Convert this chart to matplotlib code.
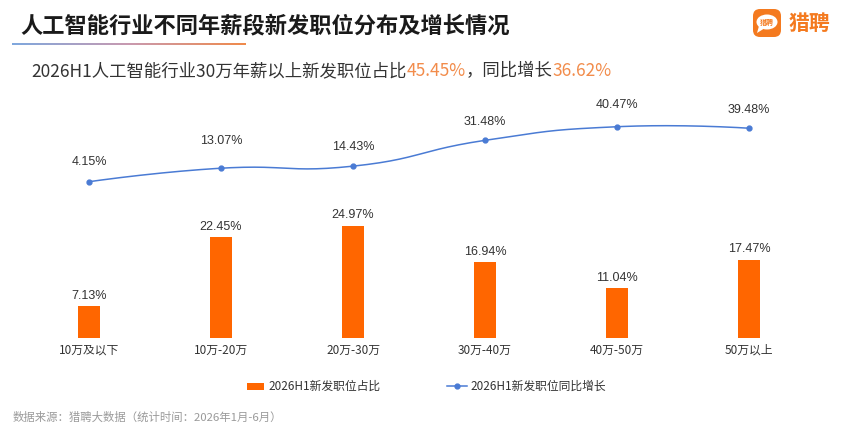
import numpy as np
import matplotlib
matplotlib.use("Agg")
import matplotlib.pyplot as plt
from matplotlib.patches import FancyBboxPatch, Rectangle, Ellipse, Polygon
from matplotlib.lines import Line2D

plt.rcParams['font.family'] = ['Noto Sans CJK SC', 'DejaVu Sans']

# ---------------- data ----------------
categories = ["10万及以下", "10万-20万", "20万-30万", "30万-40万", "40万-50万", "50万以上"]
share_values = [7.13, 22.45, 24.97, 16.94, 11.04, 17.47]     # 2026H1新发职位占比 (%)
growth_values = [4.15, 13.07, 14.43, 31.48, 40.47, 39.48]    # 2026H1新发职位同比增长 (%)
bar_label = "2026H1新发职位占比"
line_label = "2026H1新发职位同比增长"
title = "人工智能行业不同年薪段新发职位分布及增长情况"
subtitle_parts = [("2026H1人工智能行业30万年薪以上新发职位占比", "dark"), ("45.45%", "orange"),
                  ("，同比增长", "dark"), ("36.62%", "orange")]
footer = "数据来源：猎聘大数据（统计时间：2026年1月-6月）"
brand = "猎聘"

# label placement offsets (points above the line markers)
line_label_offsets = [14, 19.5, 13.5, 13.5, 15.5, 13]

W, H = 844, 433
BAR_C = "#FF6600"
LINE_C = "#4A7BD4"
DARK = "#333333"
ORANGE = "#F28C4B"

fig = plt.figure(figsize=(W / 100, H / 100), dpi=100)
fig.patch.set_facecolor("white")

def fx(x):
    return x / W

def fy(y):
    return 1 - y / H

# ---------------- axes ----------------
left_px, right_px, top_px, base_px = 23, 815, 100, 338
ax = fig.add_axes([fx(left_px), fy(base_px), (right_px - left_px) / W, (base_px - top_px) / H])
ax2 = ax.twinx()

x = np.arange(len(categories))
bar_px_per_unit = 4.49
line_px_per_unit = 1.514
line_zero_px = 188

ax.bar(x, share_values, width=0.166, color=BAR_C, zorder=2)
ax.set_xlim(-0.5, len(categories) - 0.5)
ax.set_ylim(0, (base_px - top_px) / bar_px_per_unit)
ax2.set_ylim(-(base_px - line_zero_px) / line_px_per_unit, (line_zero_px - top_px) / line_px_per_unit)

for a in (ax, ax2):
    for s in a.spines.values():
        s.set_visible(False)
    a.set_yticks([])
ax.set_xticks(x)
ax.set_xticklabels(categories, fontsize=8.5, color=DARK)
ax.tick_params(axis="x", length=0, pad=4)

# smooth line (echarts-like bezier smoothing computed in pixel space)
sx, sy = 132.0, line_px_per_unit
P = np.column_stack([x * sx, np.array(growth_values) * sy])
smooth = 0.5
n = len(P)
curve = []
for i in range(n - 1):
    p0, p1 = P[i], P[i + 1]
    if i == 0:
        c0 = p0
    else:
        v = (P[i + 1] - P[i - 1]) * smooth
        d0 = np.linalg.norm(P[i] - P[i - 1]); d1 = np.linalg.norm(P[i + 1] - P[i])
        c0 = p0 + v * d1 / (d0 + d1)
    if i + 1 == n - 1:
        c1 = p1
    else:
        v = (P[i + 2] - P[i]) * smooth
        d0 = np.linalg.norm(P[i + 1] - P[i]); d1 = np.linalg.norm(P[i + 2] - P[i + 1])
        c1 = p1 - v * d0 / (d0 + d1)
    t = np.linspace(0, 1, 40)[:, None]
    seg = (1 - t) ** 3 * p0 + 3 * (1 - t) ** 2 * t * c0 + 3 * (1 - t) * t ** 2 * c1 + t ** 3 * p1
    curve.append(seg if i == 0 else seg[1:])
curve = np.vstack(curve)
ax2.plot(curve[:, 0] / sx, curve[:, 1] / sy, color=LINE_C, lw=1.1, zorder=3)
ax2.plot(x, growth_values, "o", color=LINE_C, ms=3.5, zorder=4)

for xi, v in zip(x, share_values):
    ax.annotate(f"{v:.2f}%", (xi, v), xytext=(0, 7.5), textcoords="offset points",
                ha="center", va="center", fontsize=9, color=DARK, family="Liberation Sans")
for xi, v, off in zip(x, growth_values, line_label_offsets):
    ax2.annotate(f"{v:.2f}%", (xi, v), xytext=(0, off), textcoords="offset points",
                 ha="center", va="center", fontsize=9, color=DARK, family="Liberation Sans")

# ---------------- header ----------------
fig.text(fx(20), fy(26), title, fontsize=16, fontweight="bold", color="#1a1a1a", va="center", ha="left")

# gradient underline
gax = fig.add_axes([fx(12), fy(45), (246 - 12) / W, 2.2 / H])
grad = np.linspace(0, 1, 256)
cmap = matplotlib.colors.LinearSegmentedColormap.from_list("g", ["#7FA8DE", "#C99AB0", "#F08A4B"])
gax.imshow(grad[None, :], aspect="auto", cmap=cmap, extent=[0, 1, 0, 1])
gax.axis("off")

# subtitle with coloured parts
fig.canvas.draw()
renderer = fig.canvas.get_renderer()
cur_x = fx(31)
for txt, col in subtitle_parts:
    t = fig.text(cur_x, fy(71), txt, fontsize=12.5, color=DARK if col == "dark" else ORANGE,
                 va="center", ha="left")
    bb = t.get_window_extent(renderer=renderer)
    cur_x = bb.x1 / W

# logo
lax = fig.add_axes([0, 0, 1, 1], facecolor="none")
lax.set_xlim(0, W); lax.set_ylim(H, 0); lax.axis("off")
lax.add_patch(FancyBboxPatch((753, 9), 28, 28, boxstyle="round,pad=0,rounding_size=7",
                             fc="#F47A1F", ec="none"))
lax.add_patch(Ellipse((767, 22), 21, 15, fc="white", ec="none"))
lax.add_patch(Polygon([[759, 26], [757, 33], [765, 28]], closed=True, fc="white", ec="none"))
lax.text(767, 22, brand, fontsize=5, color="#F47A1F", ha="center", va="center", fontweight="bold")
lax.text(789, 23, brand, fontsize=15, color="#F47A1F", ha="left", va="center", fontweight="bold")

# legend
lax.add_patch(Rectangle((247, 383), 17, 6.5, fc=BAR_C, ec="none"))
lax.text(268, 386, bar_label, fontsize=8.5, color=DARK, ha="left", va="center")
lax.add_line(Line2D([447, 467], [386, 386], color=LINE_C, lw=1.1))
lax.add_line(Line2D([457], [386], marker="o", ms=3.5, color=LINE_C))
lax.text(470, 386, line_label, fontsize=8.5, color=DARK, ha="left", va="center")

# footer
lax.text(13, 417, footer, fontsize=8.2, color="#9a9a9a", ha="left", va="center")

fig.savefig("out.png", dpi=100, facecolor="white")
